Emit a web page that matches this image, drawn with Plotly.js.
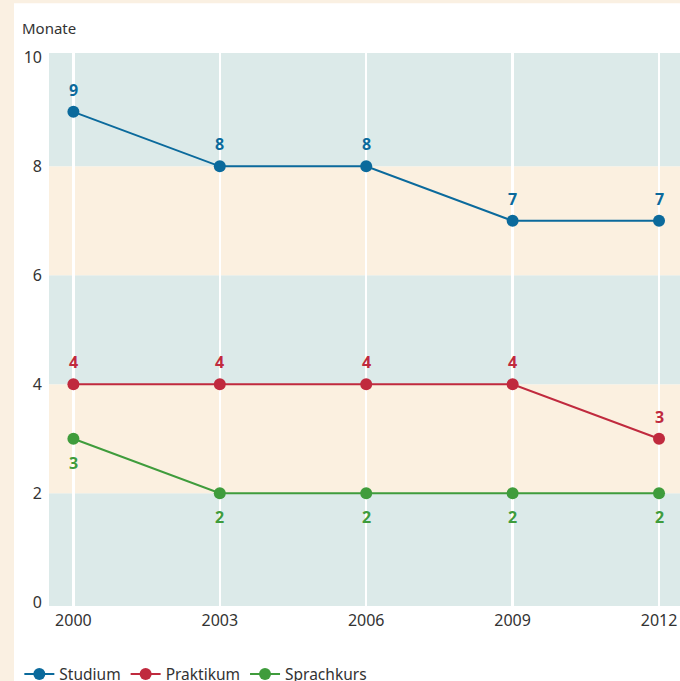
<!DOCTYPE html>
<html>
<head>
<meta charset="utf-8">
<script src="https://cdn.plot.ly/plotly-3.0.1.min.js"></script>
<style>html,body{margin:0;padding:0;background:#faf0e2;}</style>
</head>
<body>
<div id="chart" style="width:680px;height:681px;"></div>
<script>
const years = [2000, 2003, 2006, 2009, 2012];
const studium = [9, 8, 8, 7, 7];
const praktikum = [4, 4, 4, 4, 3];
const sprachkurs = [3, 2, 2, 2, 2];
const seriesNames = ['Studium', 'Praktikum', 'Sprachkurs'];
const yTicks = [0, 2, 4, 6, 8, 10];
const bandEdges = [0, 2, 4, 6, 8, 10];

const colors = ['#0b6a9c', '#c02a3e', '#3f9c3c'];
const font = '"Noto Sans", "Open Sans", sans-serif';

function mk(name, y, color) {
  return {
    x: years, y: y, name: name, type: 'scatter', mode: 'lines+markers',
    line: {color: color, width: 2},
    marker: {color: color, size: 12},
    cliponaxis: false,
    hoverinfo: 'skip'
  };
}

const series = [studium, praktikum, sprachkurs];
const labelShift = [22, 22, -24];
const data = series.map((s, i) => mk(seriesNames[i], s, colors[i]));

const annotations = [{
  text: 'Monate', xref: 'paper', yref: 'paper',
  x: -0.046, y: 1.045, xanchor: 'left', yanchor: 'middle',
  showarrow: false, font: {family: font, size: 15, color: '#333333'}
}];
series.forEach((s, i) => {
  s.forEach((v, j) => {
    annotations.push({
      x: years[j], y: v, xref: 'x', yref: 'y', text: String(v),
      showarrow: false, xanchor: 'center', yanchor: 'middle',
      yshift: labelShift[i],
      font: {family: font, size: 16, color: colors[i], weight: 'bold'}
    });
  });
});

const shapes = [{
  type: 'rect', xref: 'paper', yref: 'paper', layer: 'below',
  x0: -0.0555, x1: 1.1, y0: -0.3, y1: 1.09,
  fillcolor: '#ffffff', line: {width: 0}
}];
for (let i = 0; i < bandEdges.length - 1; i++) {
  shapes.push({
    type: 'rect', xref: 'paper', yref: 'y', layer: 'below',
    x0: 0, x1: 1,
    y0: i === 0 ? -0.07 : bandEdges[i],
    y1: i === bandEdges.length - 2 ? 10.08 : bandEdges[i + 1],
    fillcolor: i % 2 === 0 ? '#dceae9' : '#fbf0e0', line: {width: 0}
  });
}

const layout = {
  width: 680, height: 681,
  margin: {l: 49, r: 0, t: 53, b: 75, autoexpand: false},
  paper_bgcolor: '#faf0e2',
  plot_bgcolor: 'rgba(0,0,0,0)',
  font: {family: font, size: 15, color: '#333333'},
  showlegend: true,
  legend: {
    orientation: 'h', x: -0.047, xanchor: 'left', y: -0.093, yanchor: 'top',
    font: {family: font, size: 15.5, color: '#333333'},
    bgcolor: 'rgba(0,0,0,0)', tracegroupgap: 0
  },
  xaxis: {
    range: [1999.5, 2012.43], tickvals: years, ticktext: years.map(String),
    showgrid: true, gridcolor: '#ffffff', gridwidth: 2.5,
    zeroline: false, showline: false, ticks: '',
    ticklabelstandoff: 3,
    tickfont: {family: font, size: 16, color: '#333333'},
    fixedrange: true
  },
  yaxis: {
    range: [-0.07, 10.08], tickvals: yTicks, ticktext: yTicks.map(String),
    showgrid: false, zeroline: false, showline: false, ticks: '',
    ticklabelstandoff: 6,
    tickfont: {family: font, size: 16, color: '#333333'},
    fixedrange: true
  },
  shapes: shapes,
  annotations: annotations
};

Plotly.newPlot('chart', data, layout, {displayModeBar: false, staticPlot: true});
</script>
</body>
</html>
